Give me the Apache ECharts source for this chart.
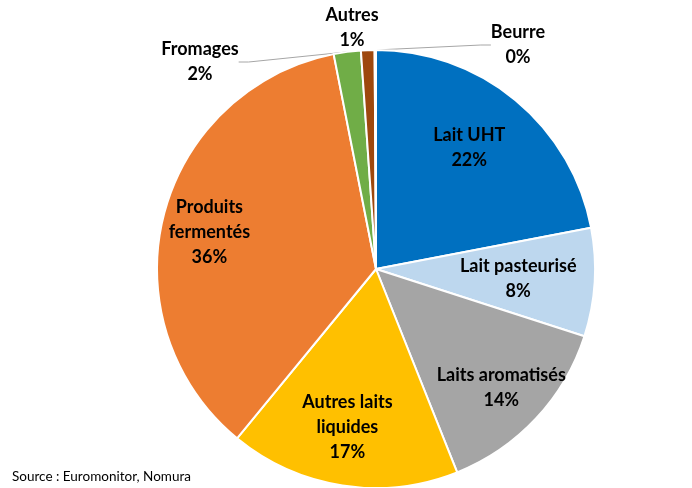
<!DOCTYPE html>
<html>
<head>
<meta charset="utf-8">
<script src="https://cdn.jsdelivr.net/npm/echarts@6/dist/echarts.min.js"></script>
<style>
  html, body { margin: 0; padding: 0; background: #fff; }
  #chart { width: 692px; height: 488px; }
</style>
</head>
<body>
<div id="chart"></div>
<script>
// données (part en %)
var categories = ['Lait UHT', 'Lait pasteurisé', 'Laits aromatisés', 'Autres laits\nliquides',
                  'Produits\nfermentés', 'Fromages', 'Autres', 'Beurre'];
var values = [22, 8, 14, 17, 36, 2, 1, 0.1];
var colors = ['#0070C0', '#BDD7EE', '#A5A5A5', '#FFC000', '#ED7D31', '#70AD47', '#9E480E', '#264478'];

// étiquettes extérieures (petites parts)
var outerPos = { 5: [200, 62], 6: [352, 28], 7: [518, 45] };
// petits décalages des étiquettes intérieures
var innerShift = { 0: [-9, 2], 1: [-18, 0], 2: [8, 9], 3: [-4, 0], 4: [-11, 2] };

var font = 'Lato, "Open Sans", sans-serif';
var chart = echarts.init(document.getElementById('chart'));

var pieData = categories.map(function (c, i) {
    var small = i >= 5;
    return {
        name: c,
        value: values[i],
        itemStyle: { color: colors[i] },
        label: { show: small },
        labelLine: { show: small && i !== 6 }
    };
});

// anneau transparent : place les étiquettes intérieures à ~72% du rayon
var ringData = categories.map(function (c, i) {
    return {
        name: c,
        value: values[i],
        label: { show: i < 5 }
    };
});

var labelStyle = {
    formatter: '{b}\n{d}%',
    color: '#000',
    fontFamily: font,
    fontWeight: 'bold',
    fontSize: 18,
    lineHeight: 25,
    align: 'center'
};

var option = {
    animation: false,
    series: [
        {
            type: 'pie',
            center: [376, 269],
            radius: [0, 219],
            startAngle: 90,
            itemStyle: { borderColor: '#fff', borderWidth: 2 },
            percentPrecision: 0,
            label: Object.assign({ position: 'outside' }, labelStyle),
            labelLine: { length: 10, length2: 10, lineStyle: { color: '#a6a6a6', width: 1 } },
            labelLayout: function (p) {
                var pos = outerPos[p.dataIndex];
                if (!pos) return {};
                return { x: pos[0], y: pos[1], align: 'center', verticalAlign: 'middle' };
            },
            emphasis: { disabled: true },
            data: pieData
        },
        {
            type: 'pie',
            center: [376, 269],
            radius: [96, 219],
            startAngle: 90,
            silent: true,
            percentPrecision: 0,
            itemStyle: { color: 'rgba(0,0,0,0)' },
            label: Object.assign({ position: 'inside' }, labelStyle),
            labelLine: { show: false },
            labelLayout: function (p) {
                var s = innerShift[p.dataIndex];
                if (!s) return {};
                return { dx: s[0], dy: s[1] };
            },
            emphasis: { disabled: true },
            data: ringData
        }
    ],
    graphic: [{
        type: 'text',
        left: 12,
        top: 470,
        style: { text: 'Source : Euromonitor, Nomura', font: '13.5px ' + font, fill: '#000' }
    }]
};

chart.setOption(option);
</script>
</body>
</html>
